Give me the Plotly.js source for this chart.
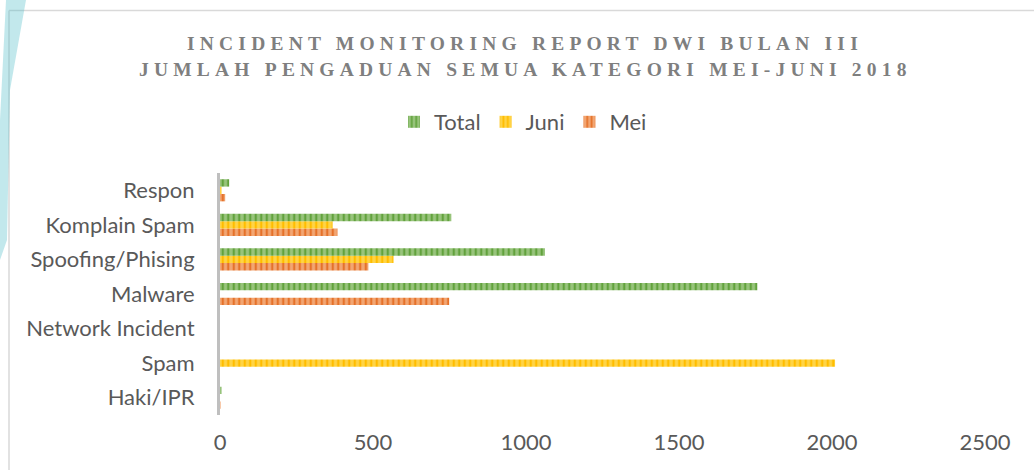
<!DOCTYPE html>
<html>
<head>
<meta charset="utf-8">
<script src="https://cdn.plot.ly/plotly-3.0.1.min.js"></script>
<style>
html,body{margin:0;padding:0;background:#fff;}
#chart{width:1034px;height:470px;}
.annotation-text{letter-spacing:5.2px;}
</style>
</head>
<body>
<div id="chart"></div>
<script>
const categories = ["Haki/IPR", "Spam", "Network Incident", "Malware", "Spoofing/Phising", "Komplain Spam", "Respon"];
const totalValues = [5, 0, 0, 1756, 1062, 756, 30];
const juniValues  = [0, 2010, 0, 0, 567, 368, 5];
const meiValues   = [2, 0, 0, 749, 485, 384, 17];
const xTicks = [0, 500, 1000, 1500, 2000, 2500];
const titleLines = ["INCIDENT MONITORING REPORT DWI BULAN III", "JUMLAH PENGADUAN SEMUA KATEGORI MEI-JUNI 2018"];

function mk(name, vals, bg, fg, rank) {
  return {
    type: 'bar', orientation: 'h', name: name, x: vals, y: categories,
    legendrank: rank,
    marker: {color: bg, line: {width: 0},
      pattern: {shape: '|', fgcolor: fg, bgcolor: bg, size: 5.5, solidity: 0.4}},
    hoverinfo: 'x+y'
  };
}
const data = [
  mk('Mei', meiValues, '#f2a673', '#e5722a', 3),
  mk('Juni', juniValues, '#ffd447', '#ffbd00', 2),
  mk('Total', totalValues, '#98c47c', '#62a23d', 1)
];

const PW = 765, PH = 242;
const px = v => (v - 220) / PW;
const py = v => (415 - v) / PH;

const layout = {
  width: 1034, height: 470,
  margin: {l: 220, r: 49, t: 173, b: 55},
  paper_bgcolor: '#fff', plot_bgcolor: '#fff',
  barmode: 'group', bargap: 0.36, bargroupgap: 0,
  font: {family: 'Lato, sans-serif', color: '#595959', size: 22},
  showlegend: true,
  legend: {orientation: 'h', x: px(523), xanchor: 'center', y: py(122), yanchor: 'middle',
    font: {size: 22, color: '#595959'}, itemwidth: 30, traceorder: 'normal'},
  xaxis: {range: [0, 2500], tickvals: xTicks, ticktext: xTicks.map(String),
    showgrid: false, zeroline: false, showline: false, ticks: '',
    ticklabelstandoff: 12, fixedrange: true},
  yaxis: {type: 'category', categoryarray: categories, showgrid: false, zeroline: false,
    showline: true, linecolor: '#bfbfbf', linewidth: 3, ticks: '',
    ticklabelstandoff: 18, fixedrange: true},
  annotations: titleLines.map((t, i) => ({
    text: '<b>' + t + '</b>', xref: 'paper', yref: 'paper', x: px(525), y: py(43.5 + i * 26),
    xanchor: 'center', yanchor: 'middle', showarrow: false,
    font: {family: 'Liberation Serif, serif', size: 19.5, color: '#7f7f7f'}
  })),
  shapes: [
    {type: 'line', xref: 'paper', yref: 'paper', x0: px(9), x1: 1.1, y0: py(10.5), y1: py(10.5),
      line: {color: '#d9d9d9', width: 1.5}},
    {type: 'line', xref: 'paper', yref: 'paper', x0: px(9), x1: px(9), y0: py(10.5), y1: py(480),
      line: {color: '#d9d9d9', width: 1.5}},
    {type: 'path', xref: 'paper', yref: 'paper',
      path: 'M ' + px(6) + ',' + py(0) + ' L ' + px(26) + ',' + py(0) + ' L ' + px(10) + ',' + py(90) +
            ' L ' + px(7) + ',' + py(240) + ' L ' + px(0) + ',' + py(260) + ' L ' + px(0) + ',' + py(120) + ' Z',
      fillcolor: 'rgba(80,190,200,0.35)', line: {width: 0}}
  ]
};
Plotly.newPlot('chart', data, layout, {displayModeBar: false, staticPlot: true});
</script>
</body>
</html>
